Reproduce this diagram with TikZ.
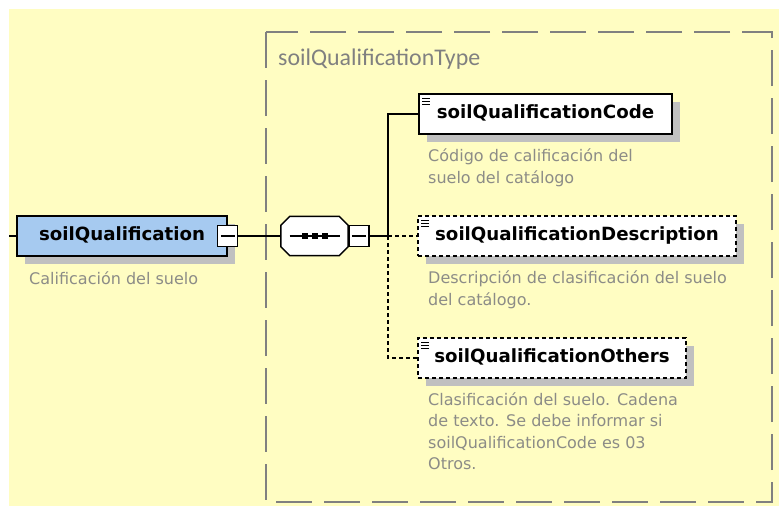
\documentclass[tikz,border=0pt]{standalone}
\usepackage{fontspec}
\setmainfont{DejaVu Sans}
\newfontfamily\typefont{Carlito}
\usetikzlibrary{positioning,shadows}

\definecolor{paper}{RGB}{255,253,194}
\definecolor{elemblue}{RGB}{166,202,240}
\definecolor{shade}{RGB}{192,192,192}
\definecolor{framegray}{RGB}{128,128,128}
\definecolor{notegray}{RGB}{140,140,135}

\tikzset{
  elem/.style={draw, line width=1.5pt, fill=white, inner sep=0pt,
    minimum height=40pt, text height=13pt, text depth=4pt,
    font=\fontsize{18.2}{22}\selectfont\bfseries,
    general shadow={fill=shade, shadow xshift=8pt, shadow yshift=-8pt}},
  optelem/.style={elem, dash pattern=on 4pt off 3pt},
  minusbox/.style={draw, line width=1.3pt, fill=white, inner sep=0pt,
    minimum width=20pt, minimum height=21pt,
    path picture={\draw[line width=1.3pt]
      ([xshift=3pt]path picture bounding box.west) --
      ([xshift=-3pt]path picture bounding box.east);}},
  seqbox/.style={inner sep=0pt, minimum width=67pt, minimum height=39pt},
  wire/.style={line width=1.5pt},
  optwire/.style={line width=1.5pt, dash pattern=on 4pt off 3pt},
  note/.style={anchor=north west, inner sep=0pt, align=left, text=notegray,
    font=\fontsize{16}{21.5}\selectfont, execute at begin node=\strut},
}

\begin{document}
\begin{tikzpicture}[x=1pt, y=-1pt]
        \useasboundingbox (0,0) rectangle (779,506);
        % Background and the dashed frame of the complex type
        \fill[white] (0,0) rectangle (779,506);
        \fill[paper] (9,9) rectangle (779,506);
        \draw[framegray, line width=1.5pt, dash pattern=on 36pt off 12pt]
            (266,32) rectangle (772,502);
        \node[anchor=base west, inner sep=0pt, text=framegray,
            font=\typefont\fontsize{23.9}{26}\selectfont] (typename) at (278,65)
            {soilQualificationType};

        % Draw the element soilQualification
        \coordinate (start) at (9,236);
        \node[elem, fill=elemblue, minimum width=210pt] (main) at (122,236)
            {soilQualification\hspace{9pt}};
        \node[minusbox] (mainx) at (main.east) {};
        \node[note] (maindoc) at (29,269.4) {Calificación del suelo};

        % Draw the sequence compositor (octagon with its shadow)
        \node[seqbox] (seq) at (314.5,236) {};
        \fill[shade, shift={(8,8)}]
            ([xshift=9pt]seq.north west) -- ([xshift=-9pt]seq.north east)
            -- ([yshift=-9pt]seq.north east) -- ([yshift=9pt]seq.south east)
            -- ([xshift=-9pt]seq.south east) -- ([xshift=9pt]seq.south west)
            -- ([yshift=9pt]seq.south west) -- ([yshift=-9pt]seq.north west) -- cycle;
        \filldraw[fill=white, line width=1.5pt]
            ([xshift=9pt]seq.north west) -- ([xshift=-9pt]seq.north east)
            -- ([yshift=-9pt]seq.north east) -- ([yshift=9pt]seq.south east)
            -- ([xshift=-9pt]seq.south east) -- ([xshift=9pt]seq.south west)
            -- ([yshift=9pt]seq.south west) -- ([yshift=-9pt]seq.north west) -- cycle;
        \node[minusbox, right=0pt of seq] (seqx) {};
        \draw[line width=1.2pt] ([xshift=-25pt]seq.center) -- ([xshift=25pt]seq.center);
        \foreach \dx in {-10,0,10}
            \fill ([xshift=\dx pt]seq.center) +(-3,-3) rectangle +(3,3);
        \coordinate (fork) at (388,236);

        % Draw the child elements
        \node[elem, minimum width=253pt] (code) at (545.5,114) {soilQualificationCode};
        \node[optelem, minimum width=318pt] (desc) at (577,236) {soilQualificationDescription};
        \node[optelem, minimum width=268pt] (others) at (552,358) {soilQualificationOthers};
        \foreach \n in {code,desc,others}
            \foreach \dy in {5,8,11}
                \draw[line width=1pt] ([xshift=4pt,yshift=-\dy pt]\n.north west) -- ++(8,0);

        % Add the documentation of the child elements
        \node[note] (codedoc) at (428,148.9)
            {Código de calificación del\\suelo del catálogo};
        \node[note] (descdoc) at (428,270.9)
            {Descripción de clasificación del suelo\\del catálogo.};
        \node[note] (othersdoc) at (428,392.4)
            {Clasificación del suelo. Cadena\\de texto. Se debe informar si\\soilQualificationCode es 03\\Otros.};

        % Draw the connectors
        \draw[wire] (start) -- (main.west);
        \draw[wire] (mainx.east) -- (seq.west);
        \draw[wire] (seqx.east) -- (fork);
        \draw[wire] (fork) |- (code.west);
        \draw[optwire] (fork) -- (desc.west);
        \draw[optwire] (fork) |- (others.west);
    \end{tikzpicture}
\end{document}
